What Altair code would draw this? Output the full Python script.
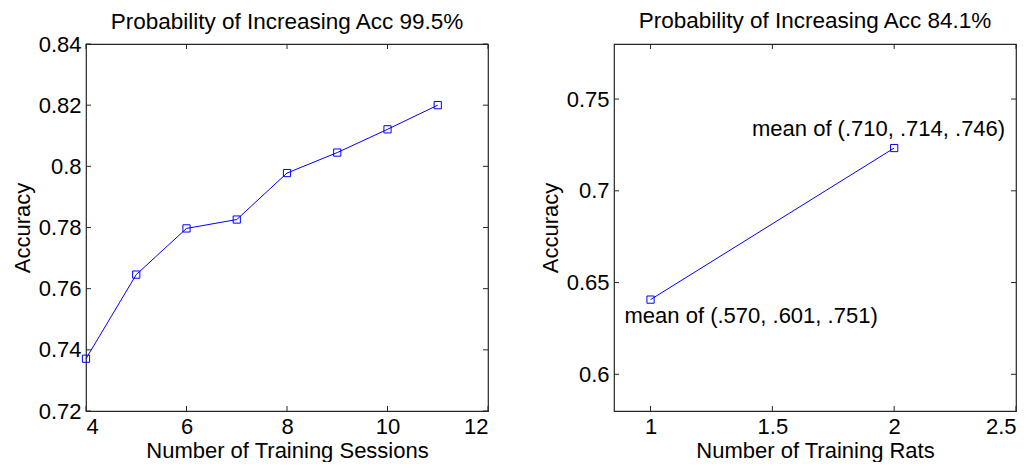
import altair as alt
import pandas as pd

# ---- data ----
sessions = [4, 5, 6, 7, 8, 9, 10, 11]
acc_sessions = [0.7371, 0.7646, 0.7797, 0.7826, 0.7978, 0.8045, 0.8121, 0.8200]

rats = [1, 2]
acc_rats = [0.6407, 0.7233]
rat_labels = ["mean of (.570, .601, .751)", "mean of (.710, .714, .746)"]

left_xticks = [4, 6, 8, 10, 12]
left_yticks = [0.72, 0.74, 0.76, 0.78, 0.80, 0.82, 0.84]
right_xticks = [1, 1.5, 2, 2.5]
right_yticks = [0.60, 0.65, 0.70, 0.75]

left_title = "Probability of Increasing Acc 99.5%"
right_title = "Probability of Increasing Acc 84.1%"

W, H = 402, 367
FONT = "Liberation Sans"
BLUE = "#0000ff"
AX = "#262626"
TL = 5  # inward tick length


def panel(xs, ys, xdom, ydom, xticks, yticks, xtitle, title, tdy, ylabels=None):
    df = pd.DataFrame({"x": xs, "y": ys})
    xs_ = alt.Scale(domain=xdom, nice=False, zero=False)
    ys_ = alt.Scale(domain=ydom, nice=False, zero=False)
    xax = alt.Axis(values=xticks, ticks=False, grid=False, domain=False,
                   labelPadding=5, titlePadding=3, title=xtitle,
                   labelExpr="format(datum.value, '')")
    yax = alt.Axis(values=yticks, ticks=False, grid=False, domain=False,
                   labelPadding=5, titlePadding=4, title="Accuracy",
                   labelExpr="format(datum.value, '')")
    base = alt.Chart(df)
    line = base.mark_line(color=BLUE, strokeWidth=1).encode(
        x=alt.X("x:Q", scale=xs_, axis=xax), y=alt.Y("y:Q", scale=ys_, axis=yax))
    pts = base.mark_point(shape="square", filled=False, color=BLUE, size=52,
                          strokeWidth=1, opacity=1).encode(
        x=alt.X("x:Q", scale=xs_, axis=xax), y=alt.Y("y:Q", scale=ys_, axis=yax))

    xt = pd.DataFrame({"t": xticks})
    yt = pd.DataFrame({"t": yticks})
    xtick_b = alt.Chart(xt).mark_rule(color=AX, strokeWidth=1).encode(
        x=alt.X("t:Q", scale=xs_, axis=xax), y=alt.value(H), y2=alt.value(H - TL))
    xtick_t = alt.Chart(xt).mark_rule(color=AX, strokeWidth=1).encode(
        x=alt.X("t:Q", scale=xs_, axis=xax), y=alt.value(0), y2=alt.value(TL))
    ytick_l = alt.Chart(yt).mark_rule(color=AX, strokeWidth=1).encode(
        y=alt.Y("t:Q", scale=ys_, axis=yax), x=alt.value(0), x2=alt.value(TL))
    ytick_r = alt.Chart(yt).mark_rule(color=AX, strokeWidth=1).encode(
        y=alt.Y("t:Q", scale=ys_, axis=yax), x=alt.value(W), x2=alt.value(W - TL))

    layers = [line, pts, xtick_b, xtick_t, ytick_l, ytick_r]
    if ylabels is not None:
        ldf = pd.DataFrame({"x": xs, "y": ys, "label": ylabels})
        l1 = alt.Chart(ldf.iloc[[0]]).mark_text(
            align="left", baseline="middle", dx=-26, dy=16,
            font=FONT, fontSize=22, color="black").encode(
            x=alt.X("x:Q", scale=xs_, axis=xax), y=alt.Y("y:Q", scale=ys_, axis=yax),
            text="label:N")
        l2 = alt.Chart(ldf.iloc[[1]]).mark_text(
            align="right", baseline="middle", dx=111, dy=-19,
            font=FONT, fontSize=22, color="black").encode(
            x=alt.X("x:Q", scale=xs_, axis=xax), y=alt.Y("y:Q", scale=ys_, axis=yax),
            text="label:N")
        layers += [l1, l2]

    return alt.layer(*layers).properties(
        width=W, height=H,
        title=alt.TitleParams(title, font=FONT, fontSize=22.5, fontWeight="normal",
                              color="black", offset=12, frame="group", dy=tdy))


left = panel(sessions, acc_sessions, [4, 12], [0.72, 0.84], left_xticks, left_yticks,
             "Number of Training Sessions", left_title, 12)
right = panel(rats, acc_rats, [0.85, 2.5], [0.58, 0.78], right_xticks, right_yticks,
              "Number of Training Rats", right_title, 1, ylabels=rat_labels)

chart = alt.hconcat(left, right, spacing=126, bounds="flush").properties(
    padding={"left": 2, "top": 1, "right": 5, "bottom": 0}
).configure_view(
    stroke=AX, strokeWidth=1.2
).configure_axis(
    labelFont=FONT, labelFontSize=22, labelColor="black",
    titleFont=FONT, titleFontSize=22, titleColor="black", titleFontWeight="normal"
)

chart.save("out.html", embed_options={"renderer": "svg", "actions": False})
